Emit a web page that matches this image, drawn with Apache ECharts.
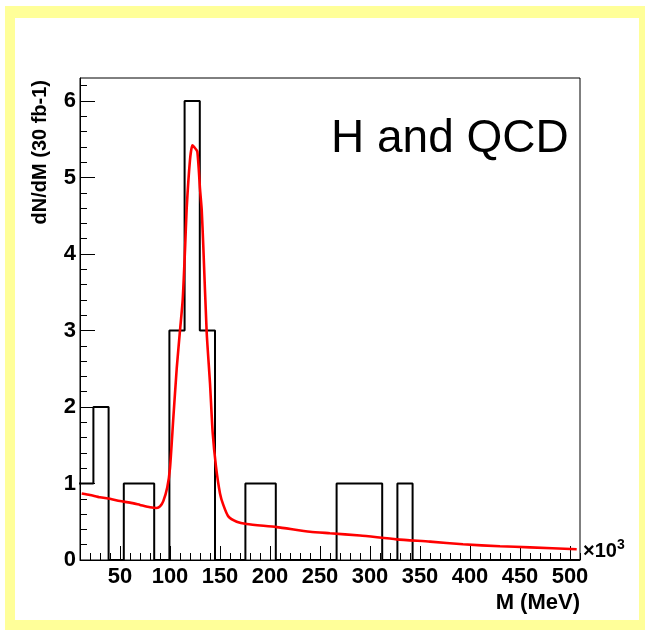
<!DOCTYPE html>
<html>
<head>
<meta charset="utf-8">
<script src="https://cdn.jsdelivr.net/npm/echarts@6/dist/echarts.min.js"></script>
<style>
html,body{margin:0;padding:0;background:#fff;}
#c{width:645px;height:630px;}
</style>
</head>
<body>
<div id="c"></div>
<script>
// ---- data ----
var binLow = 8.2;            // first bin lower edge (x10^3 MeV)
var binWidth = 15.2;         // bin width
var binCounts = [1,2,0,1,1,0,3,6,3,0,0,1,1,0,0,0,0,1,1,1,0,1,0,0,0,0,0,0,0,0,0,0,0];
var fitX = [11.7,20,30,40,50,60,70,80,86.7,90,93.3,97.3,100,103.3,106.7,110,112.7,115,116.7,120,122.3,124,127.3,130,131.7,133.3,136.7,140,142.7,146,150,153.3,158.3,166.7,176.7,206.7,240,260,290,326.7,360,393,430,460,506.7];
var fitY = [0.87,0.85,0.82,0.80,0.77,0.75,0.72,0.69,0.68,0.70,0.77,0.95,1.20,1.85,2.50,3.00,3.40,4.05,4.60,5.23,5.42,5.40,5.34,4.85,4.58,4.10,2.97,2.31,1.66,1.22,0.87,0.72,0.57,0.50,0.47,0.43,0.37,0.35,0.32,0.27,0.24,0.205,0.18,0.165,0.14];
var xTickLabels = [50,100,150,200,250,300,350,400,450,500];
var yTickLabels = [0,1,2,3,4,5,6];
var xMin = 10, xMax = 510, yMin = 0, yMax = 6.3;

// ---- build series data ----
var histPts = [];
for (var i = 0; i < binCounts.length; i++) {
  var lo = binLow + i * binWidth, hi = lo + binWidth;
  histPts.push([lo, binCounts[i]]);
  histPts.push([hi, binCounts[i]]);
}
var fitPts = fitX.map(function (x, k) { return [x, fitY[k]]; });
var xMinor = [];
for (var v = 20; v <= 510; v += 10) { if (v % 50 !== 0) xMinor.push(v); }
var yMinor = [];
for (var j = 1; j <= 31; j++) { if (j % 5 !== 0) yMinor.push(+(j * 0.2).toFixed(1)); }

var FONT = '"Liberation Sans", Arial, Helvetica, sans-serif';
var chart = echarts.init(document.getElementById('c'), null, {renderer: 'canvas'});
chart.setOption({
  animation: false,
  backgroundColor: '#ffffff',
  grid: {left: 80, top: 78, right: 65, bottom: 70, show: true, borderColor: '#000', borderWidth: 1, backgroundColor: 'transparent', z: 5},
  graphic: [
    {type: 'rect', z: -100, shape: {x: 5, y: 6, width: 640, height: 624}, style: {fill: '#ffff99'}},
    {type: 'rect', z: -99, shape: {x: 15, y: 18, width: 624, height: 602}, style: {fill: '#ffffff'}},
    {type: 'text', z: 50, left: 331, top: 116, style: {text: 'H and QCD', font: '46px ' + FONT, fill: '#000'}},
    {type: 'text', z: 50, x: 40, y: 80, rotation: Math.PI / 2,
      style: {text: 'dN/dM (30 fb-1)', font: 'bold 20px ' + FONT, fill: '#000', align: 'right', verticalAlign: 'middle'}},
    {type: 'text', z: 50, x: 580, y: 603,
      style: {text: 'M (MeV)', font: 'bold 22px ' + FONT, fill: '#000', align: 'right', verticalAlign: 'middle'}},
    {type: 'text', z: 50, x: 583, y: 551,
      style: {text: '×10{s|3}', font: 'bold 20px ' + FONT, fill: '#000', align: 'left', verticalAlign: 'middle',
        rich: {s: {font: 'bold 14px ' + FONT, verticalAlign: 'top', padding: [0,0,12,0]}}}}
  ],
  xAxis: [
    {type: 'value', min: xMin, max: xMax, position: 'bottom',
      axisLine: {show: true, lineStyle: {color: '#000', width: 1}},
      axisTick: {show: true, inside: true, length: 14, lineStyle: {color: '#000', width: 1}, customValues: xTickLabels},
      axisLabel: {show: true, margin: 6, color: '#000', fontFamily: FONT, fontWeight: 'bold', fontSize: 22, customValues: xTickLabels},
      splitLine: {show: false}},
    {type: 'value', min: xMin, max: xMax, position: 'bottom', offset: 0,
      axisLine: {show: false},
      axisTick: {show: true, inside: true, length: 7, lineStyle: {color: '#000', width: 1}, customValues: xMinor},
      axisLabel: {show: false}, splitLine: {show: false}}
  ],
  yAxis: [
    {type: 'value', min: yMin, max: yMax, interval: 1, position: 'left',
      axisLine: {show: true, lineStyle: {color: '#000', width: 1}},
      axisTick: {show: true, inside: true, length: 15, lineStyle: {color: '#000', width: 1}, customValues: yTickLabels},
      axisLabel: {show: true, margin: 4, color: '#000', fontFamily: FONT, fontWeight: 'bold', fontSize: 22, customValues: yTickLabels},
      splitLine: {show: false}},
    {type: 'value', min: yMin, max: yMax, position: 'left', offset: 0,
      axisLine: {show: false},
      axisTick: {show: true, inside: true, length: 7, lineStyle: {color: '#000', width: 1}, customValues: yMinor},
      axisLabel: {show: false}, splitLine: {show: false}}
  ],
  series: [
    {type: 'line', name: 'hist', xAxisIndex: 0, yAxisIndex: 0, data: histPts, symbol: 'none', clip: true,
      lineStyle: {color: '#000', width: 2}, z: 3},
    {type: 'line', name: 'fit', xAxisIndex: 0, yAxisIndex: 0, data: fitPts, symbol: 'none', clip: true, smooth: 0.2,
      lineStyle: {color: '#ff0000', width: 2.6}, z: 4}
  ]
});
</script>
</body>
</html>
